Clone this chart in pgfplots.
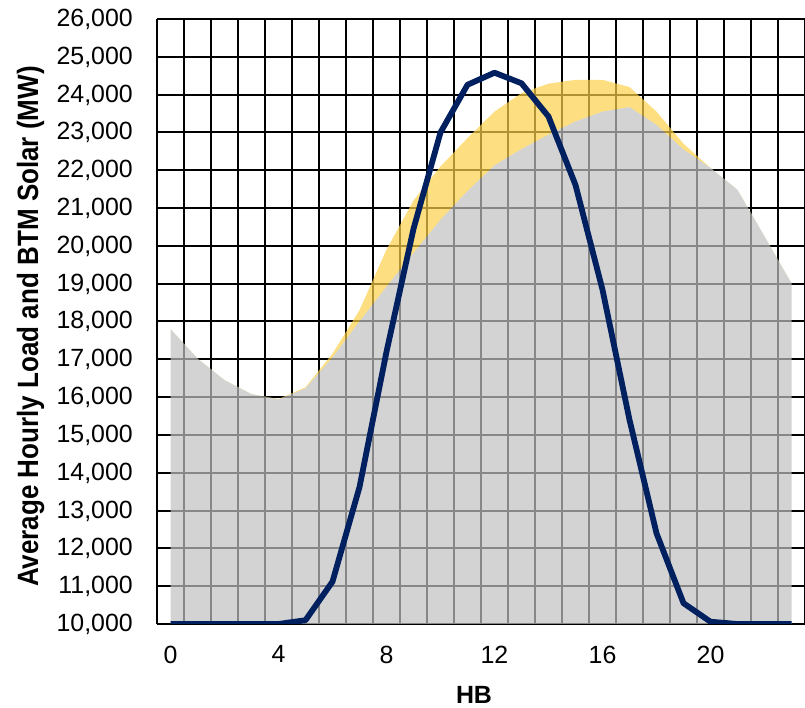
\documentclass[border=0pt]{standalone}
\usepackage{fontspec}
\setmainfont{Liberation Sans}
\newfontfamily\labfont{Liberation Sans}[FakeStretch=0.885]
\usepackage{pgfplots}
\usepgfplotslibrary{fillbetween}
\pgfplotsset{compat=1.18}

\definecolor{netgray}{RGB}{193,193,193}
\definecolor{btmgold}{RGB}{252,208,74}
\definecolor{solarnavy}{RGB}{0,32,96}

% HB, net load (gray), load incl. BTM solar (gold top), navy line
\pgfplotstableread{
hb net   total  line
0  17800 17800  10000
1  17020 17020  10000
2  16450 16450  10000
3  16080 16080  10000
4  15940 15950  10000
5  16230 16260  10100
6  17050 17150  11120
7  18000 18300  13620
8  18920 19900  17200
9  19810 21200  20450
10 20690 22100  23000
11 21450 22850  24260
12 22130 23550  24580
13 22560 24040  24300
14 22940 24290  23420
15 23290 24390  21610
16 23550 24390  18840
17 23670 24200  15400
18 23200 23550  12400
19 22550 22700  10550
20 22060 22060  10060
21 21480 21480  10000
22 20250 20250  10000
23 19010 19010  10000
}\loadtab

\begin{document}
\begin{tikzpicture}
\begin{axis}[
  scale only axis,
  width=648bp, height=605bp,
  xmin=-0.5, xmax=23.5,
  ymin=10000, ymax=26000,
  xtick={0,4,...,20},
  minor xtick={-0.5,0.5,...,23.5},
  ytick={10000,11000,...,26000},
  xmajorgrids=false, xminorgrids=true, ymajorgrids=true,
  grid style={black, line width=2bp},
  minor grid style={black, line width=2bp},
  axis x line*=bottom, axis y line*=left,
  axis line style={black, line width=2.2bp, -},
  major tick length=0pt, minor tick length=0pt,
  scaled y ticks=false,
  /pgf/number format/1000 sep={,},
  /pgf/number format/assume math mode=true,
  tick label style={font=\fontsize{25}{30}\selectfont, black, inner sep=0pt},
  yticklabel style={anchor=base east, xshift=-24bp, yshift=-7.5bp},
  xticklabel style={anchor=north, yshift=-21.5bp},
  xlabel={HB},
  ylabel={Average Hourly Load and BTM Solar (MW)},
  xlabel style={font=\fontsize{25}{30}\selectfont\bfseries,
    at={(axis description cs:0.4892,-0.1322)}, anchor=base},
  ylabel style={font=\labfont\fontsize{29.5}{34}\selectfont\bfseries,
    at={(axis description cs:-0.1836,0.4917)}, anchor=base, rotate=0},
]
\addplot[draw=none, fill=netgray, fill opacity=0.7] table[x=hb, y=net] {\loadtab} \closedcycle;
\addplot[draw=none, name path=total] table[x=hb, y=total] {\loadtab};
\addplot[draw=none, name path=netline] table[x=hb, y=net] {\loadtab};
\addplot[btmgold, fill opacity=0.7, draw=none] fill between[of=total and netline];
\addplot[solarnavy, line width=5.8bp, line join=round] table[x=hb, y=line] {\loadtab};
\end{axis}
\pgfresetboundingbox
\path (-157bp,-84bp) rectangle (648bp,624bp);
\end{tikzpicture}
\end{document}
